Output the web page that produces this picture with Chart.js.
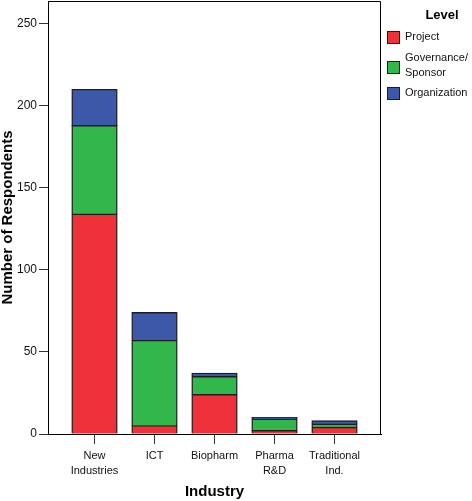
<!DOCTYPE html>
<html>
<head>
<meta charset="utf-8">
<script src="https://cdn.jsdelivr.net/npm/chart.js@4/dist/chart.umd.min.js"></script>
<style>
  html, body { margin: 0; padding: 0; background: #fff; }
  canvas { display: block; }
</style>
</head>
<body>
<canvas id="chart" width="472" height="501"></canvas>
<script>
// categories and counts
var industries = [ 'New Industries', 'ICT', 'Biopharm', 'Pharma R&D', 'Traditional Ind.' ];
var industryTicks = [ ['New', 'Industries'], 'ICT', 'Biopharm', ['Pharma', 'R&D'], ['Traditional', 'Ind.'] ];

var levels = [ 'Project', 'Governance/Sponsor', 'Organization' ];
var levelLines = [ ['Project'], ['Governance/', 'Sponsor'], ['Organization'] ];

var project      = [ 134, 5, 24, 2, 4 ];
var governance   = [ 54, 52, 11, 7, 2 ];
var organization = [ 22, 17, 2, 1, 2 ];

var yTickStep = 50;
var yMax = 264;

var colors = [ '#ef3239', '#31b74b', '#3d58a8' ];
var labelFont = '"Liberation Sans", Arial, sans-serif';

var toPoints = (values) => values.map((v, i) => ({ x: i, y: v }));

var datasets = [ project, governance, organization ].map((d, i) => {
  return {
    label: levels[i],
    data: toPoints(d),
    backgroundColor: colors[i],
    borderColor: '#1e1e1e',
    borderWidth: 1.4,
    borderSkipped: 'start',
    inflateAmount: 0.6,
    categoryPercentage: 1,
    barPercentage: 0.75
  }
});

// box round the plot area (top + right edges)
var frame = {
  id: 'frame',
  afterDraw: (chart) => {
    var a = chart.chartArea;
    var ctx = chart.ctx;
    ctx.save();
    ctx.strokeStyle = '#000';
    ctx.lineWidth = 1;
    ctx.beginPath();
    ctx.moveTo(a.left, a.top + 0.5);
    ctx.lineTo(a.right - 0.5, a.top + 0.5);
    ctx.lineTo(a.right - 0.5, a.bottom);
    ctx.stroke();
    ctx.restore();
  }
};

// legend on the right, SPSS style
var levelLegend = {
  id: 'levelLegend',
  afterDraw: (chart) => {
    var a = chart.chartArea;
    var ctx = chart.ctx;
    var x = a.right + 6;
    ctx.save();
    ctx.fillStyle = '#000';
    ctx.textBaseline = 'middle';
    ctx.textAlign = 'center';
    ctx.font = 'bold 13px ' + labelFont;
    ctx.fillText('Level', a.right + 61, a.top + 14);

    ctx.textAlign = 'left';
    ctx.font = '11px ' + labelFont;
    var y = a.top + 28.5;
    chart.data.datasets.forEach((ds, i) => {
      var lines = levelLines[i];
      var h = lines.length * 15;
      var mid = Math.round(y + h / 2) + (lines.length > 1 ? 2 : 0);
      ctx.fillStyle = ds.backgroundColor;
      ctx.fillRect(x, mid - 6, 13, 13);
      ctx.strokeStyle = '#1e1e1e';
      ctx.lineWidth = 1;
      ctx.strokeRect(x + 0.5, mid - 5.5, 12, 12);
      ctx.fillStyle = '#111';
      lines.forEach((t, j) => ctx.fillText(t, x + 18, y + 7.5 + j * 15));
      y += h + 5.5;
    });
    ctx.restore();
  }
};

var chart = new Chart(document.getElementById('chart'), {
  type: 'bar',
  data: {
    datasets: datasets
  },
  plugins: [ frame, levelLegend ],
  options: {
    responsive: false,
    animation: false,
    layout: {
      padding: { top: 1, right: 91, left: 0, bottom: 0 }
    },
    plugins: {
      legend: { display: false },
      tooltip: { enabled: false }
    },
    scales: {
      x: {
        type: 'linear',
        stacked: true,
        offset: false,
        min: -0.775,
        max: industries.length - 1 + 0.775,
        afterFit: (s) => { s.height = 67; },
        border: { display: true, color: '#000', width: 1 },
        grid: {
          offset: false,
          drawOnChartArea: false,
          drawTicks: true,
          tickLength: 10,
          tickColor: '#333'
        },
        ticks: {
          stepSize: 1,
          includeBounds: false,
          autoSkip: false,
          maxRotation: 0,
          padding: 4.5,
          color: '#111',
          font: { family: labelFont, size: 11, lineHeight: 15 / 11 },
          callback: (value) => industryTicks[value]
        },
        title: {
          display: true,
          text: 'Industry',
          color: '#000',
          padding: { top: 4.5, bottom: 1.5 },
          font: { family: labelFont, size: 15, weight: 'bold', lineHeight: 1 }
        }
      },
      y: {
        stacked: true,
        min: 0,
        max: yMax,
        afterFit: (s) => { s.width = 48; s.paddingTop = 0; },
        border: { display: true, color: '#000', width: 1 },
        grid: {
          drawOnChartArea: false,
          drawTicks: true,
          tickLength: 9,
          tickColor: '#333'
        },
        ticks: {
          stepSize: yTickStep,
          includeBounds: false,
          padding: 2,
          color: '#111',
          font: { family: labelFont, size: 12 }
        },
        title: {
          display: true,
          text: 'Number of Respondents',
          color: '#000',
          padding: { top: 0, bottom: 2 },
          font: { family: labelFont, size: 15, weight: 'bold', lineHeight: 1 }
        }
      }
    }
  }
});
</script>
</body>
</html>
